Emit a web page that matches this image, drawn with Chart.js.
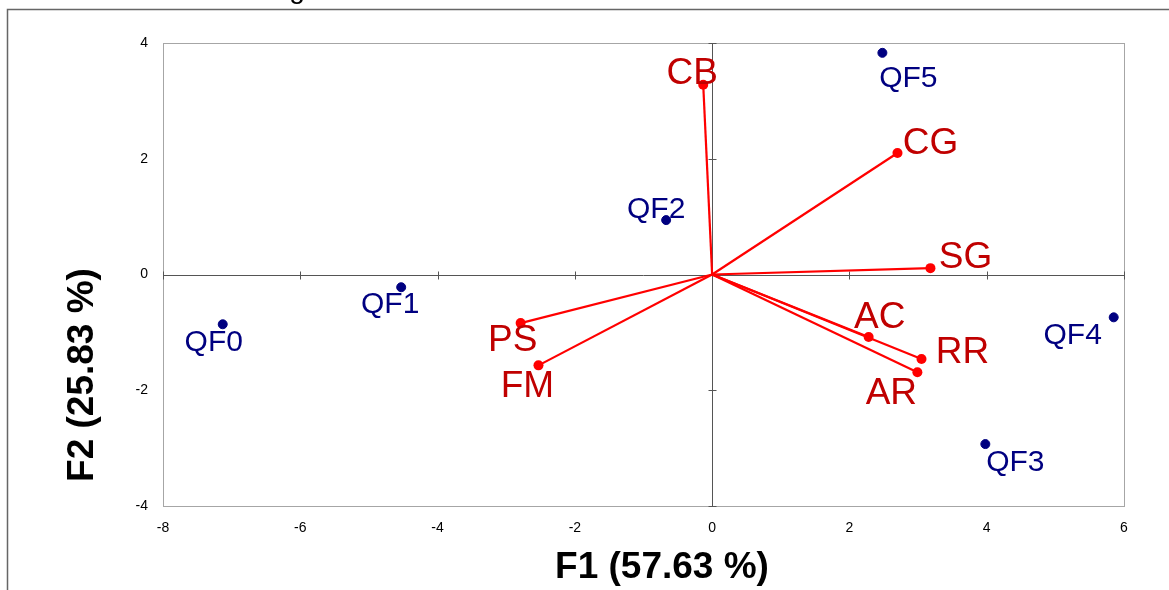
<!DOCTYPE html>
<html>
<head>
<meta charset="utf-8">
<script src="https://cdn.jsdelivr.net/npm/chart.js@4/dist/chart.umd.min.js"></script>
<style>
  html, body { margin: 0; padding: 0; background: #fff; }
  #wrap { width: 1169px; height: 590px; position: relative; }
</style>
</head>
<body>
<div id="wrap"><canvas id="biplot"></canvas></div>
<script>
// observations (blue)
const obsLabels = ['QF0', 'QF1', 'QF2', 'QF3', 'QF4', 'QF5'];
const obsF1 = [-7.13, -4.53, -0.67, 3.98, 5.85, 2.48];
const obsF2 = [-0.86, -0.22, 0.94, -2.93, -0.74, 3.83];

// variables (red vectors)
const varLabels = ['CB', 'CG', 'SG', 'AC', 'RR', 'AR', 'PS', 'FM'];
const varF1 = [-0.13, 2.70, 3.18, 2.28, 3.05, 2.99, -2.79, -2.53];
const varF2 = [3.28, 2.10, 0.11, -1.08, -1.46, -1.69, -0.84, -1.57];

// axis ticks
const xTicks = [-8, -6, -4, -2, 0, 2, 4, 6];
const yTicks = [-4, -2, 0, 2, 4];

// where each label sits relative to its point (px)
const labelOffsets = {
    QF0: [-9, 18], QF1: [-11, 18], QF2: [-10, -10], QF3: [30, 19], QF4: [-41, 18], QF5: [26, 26],
    CB: [-11, -11], CG: [33, -9], SG: [35, -10], AC: [11, -19], RR: [41, -6], AR: [-26, 21],
    PS: [-8, 18], FM: [-11, 21]
}

const FONT = '"Liberation Sans", Arial, sans-serif'
const BLUE = '#000080', RED = '#ff0000', DARKRED = '#c00000'

const datasets = [{
    label: 'obs',
    data: obsF1.map((x, i) => ({ x: x, y: obsF2[i] })),
    backgroundColor: BLUE,
    borderColor: BLUE,
    pointRadius: 4.5,
    showLine: false
}]
varLabels.forEach((name, i) => {
    datasets.push({
        label: name,
        data: [{ x: 0, y: 0 }, { x: varF1[i], y: varF2[i] }],
        showLine: true,
        borderColor: RED,
        borderWidth: 2.2,
        backgroundColor: RED,
        pointRadius: [0, 5],
        pointBorderWidth: 0
    })
})

const decorations = {
    id: 'decorations',
    beforeDatasetsDraw(chart) {
        const { ctx, chartArea: a, scales: { x, y } } = chart
        ctx.save()
        // plot frame
        ctx.strokeStyle = '#a6a6a6'
        ctx.lineWidth = 1
        ctx.strokeRect(a.left + 0.5, a.top + 0.5, a.right - a.left, a.bottom - a.top)
        // zero axes with cross ticks
        const x0 = Math.round(x.getPixelForValue(0)) + 0.5
        const y0 = Math.round(y.getPixelForValue(0)) + 0.5
        ctx.strokeStyle = '#555'
        ctx.beginPath()
        ctx.moveTo(x0, a.top); ctx.lineTo(x0, a.bottom)
        ctx.moveTo(a.left, y0); ctx.lineTo(a.right, y0)
        xTicks.forEach(v => {
            const px = Math.round(x.getPixelForValue(v)) + 0.5
            ctx.moveTo(px, y0 - 4); ctx.lineTo(px, y0 + 4)
        })
        yTicks.forEach(v => {
            const py = Math.round(y.getPixelForValue(v)) + 0.5
            ctx.moveTo(x0 - 4, py); ctx.lineTo(x0 + 4, py)
        })
        ctx.stroke()
        ctx.restore()
    },
    afterDatasetsDraw(chart) {
        const { ctx, scales: { x, y } } = chart
        ctx.save()
        ctx.textAlign = 'center'
        ctx.textBaseline = 'middle'
        // point labels
        ctx.font = '30px ' + FONT
        ctx.fillStyle = BLUE
        obsLabels.forEach((name, i) => {
            const o = labelOffsets[name]
            ctx.fillText(name, x.getPixelForValue(obsF1[i]) + o[0], y.getPixelForValue(obsF2[i]) + o[1])
        })
        ctx.font = '37px ' + FONT
        ctx.fillStyle = DARKRED
        varLabels.forEach((name, i) => {
            const o = labelOffsets[name]
            ctx.fillText(name, x.getPixelForValue(varF1[i]) + o[0], y.getPixelForValue(varF2[i]) + o[1])
        })
        // axis titles
        ctx.fillStyle = '#000'
        ctx.font = 'bold 37px ' + FONT
        ctx.fillText('F1 (57.63 %)', 662, 568)
        ctx.translate(83, 375)
        ctx.rotate(-Math.PI / 2)
        ctx.fillText('F2 (25.83 %)', 0, 0)
        ctx.restore()

        // outer frame + cut-off title
        ctx.save()
        ctx.strokeStyle = '#666'
        ctx.lineWidth = 1.5
        ctx.beginPath()
        ctx.moveTo(7.5, 590); ctx.lineTo(7.5, 9.5); ctx.lineTo(1169, 9.5)
        ctx.stroke()
        ctx.fillStyle = '#000'
        ctx.font = '28px ' + FONT
        ctx.textAlign = 'center'
        ctx.textBaseline = 'alphabetic'
        ctx.fillText('g', 297, -2)
        ctx.restore()
    }
}

new Chart(document.getElementById('biplot'), {
    type: 'scatter',
    data: { datasets: datasets },
    options: {
        responsive: true,
        maintainAspectRatio: false,
        animation: false,
        events: [],
        layout: { padding: { top: 43, right: 45, bottom: 0, left: 0 } },
        plugins: { legend: { display: false }, tooltip: { enabled: false } },
        scales: {
            x: {
                type: 'linear',
                min: -8, max: 6,
                afterBuildTicks: s => { s.ticks = xTicks.map(v => ({ value: v })) },
                afterFit: s => { s.height = 84 },
                grid: { display: false, drawTicks: false },
                border: { display: false },
                ticks: { padding: 14, color: '#000', font: { family: FONT, size: 14 } }
            },
            y: {
                type: 'linear',
                min: -4, max: 4,
                afterBuildTicks: s => { s.ticks = yTicks.map(v => ({ value: v })) },
                afterFit: s => { s.width = 163 },
                grid: { display: false, drawTicks: false },
                border: { display: false },
                ticks: { padding: 15, color: '#000', font: { family: FONT, size: 14 } }
            }
        }
    },
    plugins: [decorations]
})
</script>
</body>
</html>
